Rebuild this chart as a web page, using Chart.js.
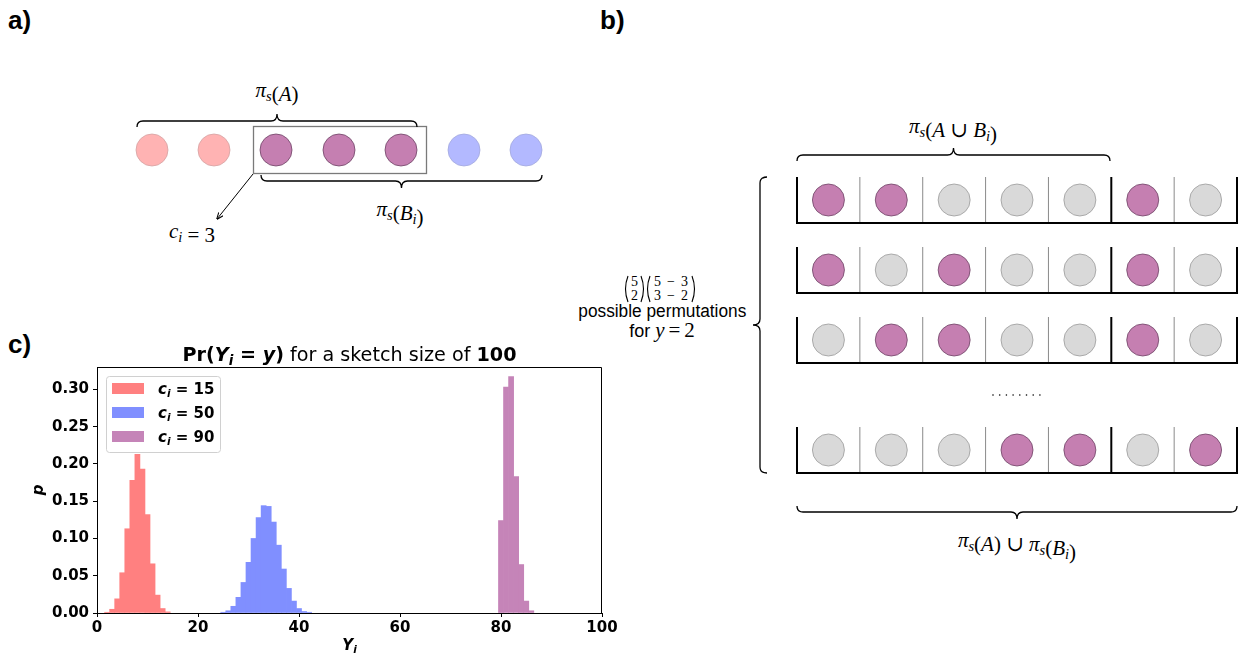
<!DOCTYPE html>
<html>
<head>
<meta charset="utf-8">
<script src="https://cdn.jsdelivr.net/npm/chart.js@4.4.1/dist/chart.umd.min.js"></script>
<style>
  html, body { margin: 0; padding: 0; background: #fff; }
  #wrap { position: relative; width: 1239px; height: 656px; overflow: hidden; }
  #diagram, #chart { position: absolute; left: 0; top: 0; }
</style>
</head>
<body>
<div id="wrap">
  <svg id="diagram" width="1239" height="656" xmlns="http://www.w3.org/2000/svg"></svg>
  <canvas id="chart" width="1239" height="656"></canvas>
</div>
<script>
// ---- histogram data ----
const binsC15 = [2, 3, 4, 5, 6, 7, 8, 9, 10, 11, 12, 13, 14];
const probC15 = [0.001, 0.005, 0.019, 0.054, 0.113, 0.178, 0.213, 0.193, 0.132, 0.066, 0.024, 0.006, 0.0015];

const binsC50 = [25, 26, 27, 28, 29, 30, 31, 32, 33, 34, 35, 36, 37, 38, 39, 40, 41, 42];
const probC50 = [0.001, 0.003, 0.009, 0.021, 0.041, 0.068, 0.100, 0.128, 0.144, 0.143, 0.122, 0.091, 0.059, 0.033, 0.016, 0.006, 0.002, 0.001];

const binsC90 = [80, 81, 82, 83, 84, 85, 86];
const probC90 = [0.124, 0.303, 0.317, 0.183, 0.065, 0.016, 0.003];

const seriesLabels = ['15', '50', '90'];
const sketchSize = '100';

// ---- diagram content ----
const rowA = ['r', 'r', 'p', 'p', 'p', 'b', 'b'];
const permRows = [
  ['p', 'p', 'g', 'g', 'g', 'p', 'g'],
  ['p', 'g', 'p', 'g', 'g', 'p', 'g'],
  ['g', 'p', 'p', 'g', 'g', 'p', 'g'],
  ['g', 'g', 'g', 'p', 'p', 'g', 'p']
];

const COLORS = { red: '#ff8080', blue: '#808fff', purple: '#c584b8' };
const dotFill = { r: '#ffb3b3', b: '#b3b9ff', p: '#c57fb1', g: '#d9d9d9' };
const dotStroke = { r: '#d4a3a3', b: '#a3a9dd', p: '#6e4466', g: '#9a9a9a' };

// ---------- diagrams (panels a and b) ----------
function hBrace(x1, x2, y, tipUp) {
  const s = tipUp ? 1 : -1, d = 6, t = 7, r = 6, xm = (x1 + x2) / 2;
  return `M${x1},${y + s * d} Q${x1},${y} ${x1 + r},${y} L${xm - r},${y} Q${xm},${y} ${xm},${y - s * t} ` +
         `Q${xm},${y} ${xm + r},${y} L${x2 - r},${y} Q${x2},${y} ${x2},${y + s * d}`;
}
function vBrace(x, y1, y2) {
  const d = 7, t = 7, r = 6, ym = (y1 + y2) / 2;
  return `M${x + d},${y1} Q${x},${y1} ${x},${y1 + r} L${x},${ym - r} Q${x},${ym} ${x - t},${ym} ` +
         `Q${x},${ym} ${x},${ym + r} L${x},${y2 - r} Q${x},${y2} ${x + d},${y2}`;
}
// small helpers for the LaTeX-like labels
const it = t => `<tspan font-style="italic">${t}</tspan>`;
const sub = t => `<tspan font-style="italic" font-size="14.5" dy="4">${t}</tspan><tspan dy="-4"></tspan>`;
const op = t => ` ${t} `;
const PI_S = it('π') + sub('s');

let svg = '';
const serif = 'font-family="Liberation Serif, DejaVu Serif, serif"';
// panel labels
svg += `<g font-family="Liberation Sans, Arial, sans-serif" font-weight="bold" font-size="26">
  <text x="8" y="29">a)</text><text x="600" y="29">b)</text><text x="8" y="353">c)</text></g>`;

// panel a
const aX = [152, 214, 276, 339, 401, 464, 526];
rowA.forEach((c, i) => {
  svg += `<circle cx="${aX[i]}" cy="150" r="16" fill="${dotFill[c]}" stroke="${dotStroke[c]}" stroke-width="0.8"/>`;
});
svg += `<rect x="253.5" y="126.5" width="173" height="47" fill="none" stroke="#7a7a7a" stroke-width="1.3"/>`;
svg += `<path d="${hBrace(137, 417, 121, true)}" fill="none" stroke="#000" stroke-width="1.3"/>`;
svg += `<path d="${hBrace(261, 542, 181, false)}" fill="none" stroke="#000" stroke-width="1.3"/>`;
svg += `<defs><marker id="ah" viewBox="0 0 10 10" refX="9" refY="5" markerWidth="7" markerHeight="7" orient="auto">
  <path d="M0,1 L10,5 L0,9" fill="none" stroke="#000" stroke-width="1.5"/></marker></defs>`;
svg += `<line x1="253" y1="174" x2="217" y2="219" stroke="#000" stroke-width="1" marker-end="url(#ah)"/>`;
svg += `<text x="277" y="97" text-anchor="middle" ${serif} font-size="21">${PI_S}(${it('A')})</text>`;
svg += `<text x="400" y="216" text-anchor="middle" ${serif} font-size="21">${PI_S}(${it('B')}${sub('i')})</text>`;
svg += `<text x="192" y="238" text-anchor="middle" ${serif} font-size="21">${it('c')}${sub('i')}${op('=')}3</text>`;

// panel b
const cellW = 62.86, bx0 = 797, rowTops = [177, 247, 317, 427], rowH = 46;
permRows.forEach((row, ri) => {
  const top = rowTops[ri];
  for (let k = 1; k < 7; k++) {
    if (k === 5) continue;
    const x = bx0 + k * cellW;
    svg += `<line x1="${x}" y1="${top}" x2="${x}" y2="${top + rowH}" stroke="#8a8a8a" stroke-width="1"/>`;
  }
  row.forEach((c, i) => {
    svg += `<circle cx="${bx0 + (i + 0.5) * cellW}" cy="${top + 23}" r="16" fill="${dotFill[c]}" stroke="${dotStroke[c]}" stroke-width="0.8"/>`;
  });
  [0, 5, 7].forEach(k => {
    const x = bx0 + k * cellW;
    svg += `<line x1="${x}" y1="${top}" x2="${x}" y2="${top + rowH}" stroke="#000" stroke-width="2"/>`;
  });
  svg += `<line x1="${bx0 - 1}" y1="${top + rowH}" x2="${bx0 + 7 * cellW + 1}" y2="${top + rowH}" stroke="#000" stroke-width="2"/>`;
});
for (let k = 0; k < 8; k++) svg += `<circle cx="${993 + k * 6.7}" cy="395" r="0.8" fill="#000"/>`;
svg += `<path d="${hBrace(797, 1110, 155, true)}" fill="none" stroke="#000" stroke-width="1.3"/>`;
svg += `<path d="${hBrace(797, 1237, 512, false)}" fill="none" stroke="#000" stroke-width="1.3"/>`;
svg += `<path d="${vBrace(760, 177, 473)}" fill="none" stroke="#000" stroke-width="1.3"/>`;
svg += `<text x="953" y="133" text-anchor="middle" ${serif} font-size="21">${PI_S}(${it('A')}${op('∪')}${it('B')}${sub('i')})</text>`;
svg += `<text x="1017" y="547" text-anchor="middle" ${serif} font-size="21">${PI_S}(${it('A')})${op('∪')}${PI_S}(${it('B')}${sub('i')})</text>`;
// binomials
function paren(x, y1, y2, left) {
  const bend = left ? -5 : 5;
  return `<path d="M${x},${y1} Q${x + bend},${(y1 + y2) / 2} ${x},${y2}" fill="none" stroke="#000" stroke-width="1.1"/>`;
}
svg += paren(628, 276, 302, true) + paren(641, 276, 302, false);
svg += paren(650, 276, 302, true) + paren(692, 276, 302, false);
svg += `<g ${serif} font-size="14" text-anchor="middle"><text x="634.5" y="286">5</text><text x="634.5" y="300">2</text>
  <text x="671" y="286" textLength="34" lengthAdjust="spacing">5−3</text><text x="671" y="300" textLength="34" lengthAdjust="spacing">3−2</text></g>`;
svg += `<text x="662.3" y="316.5" text-anchor="middle" font-family="Liberation Sans, Arial, sans-serif" font-size="18" textLength="168" lengthAdjust="spacingAndGlyphs">possible permutations</text>`;
svg += `<text x="662" y="336.5" text-anchor="middle" font-family="Liberation Sans, Arial, sans-serif" font-size="18">for <tspan ${serif} font-style="italic" font-size="21">y</tspan><tspan ${serif} font-size="21" dx="4">=</tspan><tspan ${serif} font-size="21" dx="4">2</tspan></text>`;
document.getElementById('diagram').innerHTML = svg;

// ---------- chart (panel c) ----------
const FAM = 'DejaVu Sans';
const Y_AXIS_W = 60, X_AXIS_H = 30;
const area = { left: 97, top: 367, right: 602, bottom: 613 };

function drawRuns(ctx, runs, x, y, align) {
  let w = 0;
  runs.forEach(r => { ctx.font = r.font; r.w = ctx.measureText(r.text).width; w += r.w; });
  let cx = align === 'center' ? x - w / 2 : x;
  ctx.textAlign = 'left';
  ctx.textBaseline = 'alphabetic';
  runs.forEach(r => { ctx.font = r.font; ctx.fillText(r.text, cx, y + (r.dy || 0)); cx += r.w; });
  return w;
}
const bi = s => `italic bold ${s}px "${FAM}"`;
const b = s => `bold ${s}px "${FAM}"`;
const n = s => `${s}px "${FAM}"`;

function titleRuns(s) {
  return [
    { text: 'Pr(', font: b(s) }, { text: 'Y', font: bi(s) }, { text: 'i', font: bi(s * 0.7), dy: s * 0.2 },
    { text: ' = ', font: b(s) }, { text: 'y', font: bi(s) }, { text: ')', font: b(s) },
    { text: ' for a sketch size of ', font: n(s) }, { text: sketchSize, font: b(s) }
  ];
}

const decorations = {
  id: 'decorations',
  afterDatasetsDraw(chart) {
    const { ctx, chartArea: ca } = chart;
    ctx.save();
    // top and right spines
    ctx.strokeStyle = '#000';
    ctx.lineWidth = 1;
    ctx.beginPath();
    ctx.moveTo(ca.left, ca.top + 0.5); ctx.lineTo(ca.right - 0.5, ca.top + 0.5); ctx.lineTo(ca.right - 0.5, ca.bottom);
    ctx.stroke();

    // legend
    const lx = 106, ly = 376, lw = 114, lh = 76;
    ctx.beginPath();
    ctx.roundRect(lx + 0.5, ly + 0.5, lw, lh, 3);
    ctx.fillStyle = 'rgba(255,255,255,0.8)';
    ctx.fill();
    ctx.strokeStyle = '#d0d0d0';
    ctx.stroke();
    chart.data.datasets.forEach((ds, i) => {
      const ry = 383 + i * 24;
      ctx.fillStyle = ds.backgroundColor;
      ctx.fillRect(112, ry, 32, 11);
      ctx.fillStyle = '#000';
      drawRuns(ctx, [
        { text: 'c', font: bi(15) }, { text: 'i', font: bi(10.5), dy: 3 },
        { text: ' = ', font: b(15) }, { text: ds.label, font: b(15) }
      ], 158, ry + 11, 'left');
    });

    // title, fitted to the width seen in the picture
    ctx.fillStyle = '#000';
    const probe = document.createElement('canvas').getContext('2d');
    let w17 = 0;
    titleRuns(17).forEach(r => { probe.font = r.font; w17 += probe.measureText(r.text).width; });
    const ts = 17 * 334 / w17;
    drawRuns(ctx, titleRuns(ts), (ca.left + ca.right) / 2, 361, 'center');

    // axis titles
    drawRuns(ctx, [{ text: 'Y', font: bi(15) }, { text: 'i', font: bi(10.5), dy: 3 }], (ca.left + ca.right) / 2, 650, 'center');
    ctx.translate(43, 490);
    ctx.rotate(-Math.PI / 2);
    drawRuns(ctx, [{ text: 'p', font: bi(15) }], 0, 0, 'center');
    ctx.restore();
  }
};

const toPoints = (xs, ys) => xs.map((x, i) => ({ x, y: ys[i] }));
const barStyle = { borderWidth: 0, barPercentage: 1, categoryPercentage: 1, grouped: false };
const tickFont = { family: FAM, size: 15, weight: 'bold' };

new Chart(document.getElementById('chart'), {
  type: 'bar',
  data: {
    datasets: [
      { label: seriesLabels[0], data: toPoints(binsC15, probC15), backgroundColor: COLORS.red, ...barStyle },
      { label: seriesLabels[1], data: toPoints(binsC50, probC50), backgroundColor: COLORS.blue, ...barStyle },
      { label: seriesLabels[2], data: toPoints(binsC90, probC90), backgroundColor: COLORS.purple, ...barStyle }
    ]
  },
  options: {
    responsive: false,
    animation: false,
    layout: {
      padding: { left: area.left - Y_AXIS_W, top: area.top, right: 1239 - area.right, bottom: 656 - area.bottom - X_AXIS_H }
    },
    plugins: { legend: { display: false }, title: { display: false }, tooltip: { enabled: false } },
    scales: {
      x: {
        type: 'linear', min: 0, max: 100, offset: false,
        afterFit: s => { s.height = X_AXIS_H; },
        grid: { display: true, drawOnChartArea: false, drawTicks: true, tickLength: 4, color: '#000', offset: false },
        border: { display: true, color: '#000', width: 1 },
        ticks: { stepSize: 20, color: '#000', font: tickFont, padding: 2, maxRotation: 0 }
      },
      y: {
        type: 'linear', min: 0, max: 0.33,
        afterFit: s => { s.width = Y_AXIS_W; },
        grid: { display: true, drawOnChartArea: false, drawTicks: true, tickLength: 4, color: '#000' },
        border: { display: true, color: '#000', width: 1 },
        ticks: { stepSize: 0.05, includeBounds: false, color: '#000', font: tickFont, padding: 4,
                 callback: v => v.toFixed(2) }
      }
    }
  },
  plugins: [decorations]
});
</script>
</body>
</html>
